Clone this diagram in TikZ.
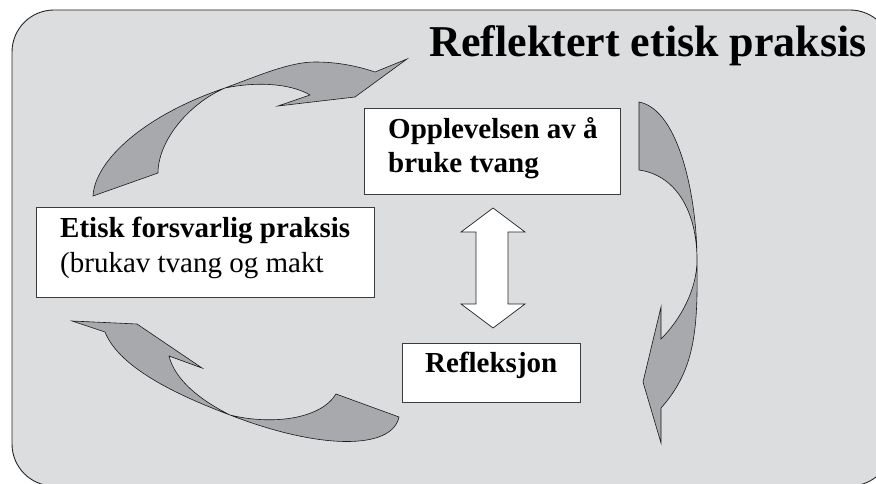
\documentclass[tikz,border=0pt]{standalone}
\usepackage{fontspec}
\setmainfont{Liberation Serif}
\definecolor{bgfill}{RGB}{220,221,223}
\definecolor{arrfill}{RGB}{168,169,173}
\definecolor{boxline}{RGB}{60,60,60}
\begin{document}
\begin{tikzpicture}[x=1pt,y=-1pt,
  bgpanel/.style={draw=black!85,line width=0.9pt,fill=bgfill,rounded corners=42pt},
  curvearrow/.style={draw=black!90,line width=0.6pt,fill=arrfill,line join=miter},
  box/.style={draw=boxline,line width=0.8pt,fill=white,rectangle,inner sep=0pt,anchor=north west},
  txt/.style={anchor=base west,inner sep=0pt,font=\fontsize{29}{34}\selectfont},
  dblarrow/.style={draw=black!85,line width=0.7pt,fill=white,line join=miter}]
\useasboundingbox (0,0) rectangle (876,484);
\clip (0,0) rectangle (876,484);
% background panel
\draw[bgpanel] (12,10) rectangle (892,486);
% title
\node[anchor=base east,inner sep=0pt,font=\fontsize{44}{48}\selectfont\bfseries] (title) at (867,57) {Reflektert etisk praksis};
% boxes
\node[box,minimum width=256pt,minimum height=86pt] (opp) at (364,108) {};
\node[txt,font=\fontsize{29}{34}\selectfont\bfseries] (oppA) at (388,139) {Opplevelsen av å};
\node[txt,font=\fontsize{29}{34}\selectfont\bfseries] (oppB) at (388,172) {bruke tvang};
\node[box,minimum width=338pt,minimum height=90pt] (etisk) at (36,207) {};
\node[txt,font=\fontsize{29}{34}\selectfont\bfseries] (etA) at (60,237) {Etisk forsvarlig praksis};
\node[txt] (etB) at (60,272) {(brukav tvang og makt};
\node[box,minimum width=178pt,minimum height=59pt] (refl) at (402,343) {};
\node[txt,font=\fontsize{29}{34}\selectfont\bfseries] (reA) at (425,372) {Refleksjon};
% double arrow between opp and refl
\coordinate (dtop) at (493,208);
\coordinate (dbot) at (493,328);
\draw[dblarrow] (dtop) -- ++(32,24) -- ++(-17,0) -- ++(0,72) -- ++(17,0) -- (dbot)
  -- ++(-32,-24) -- ++(15,0) -- ++(0,-72) -- ++(-15,0) -- cycle;
% curved arrow 1 (top left)
\draw[curvearrow] (93,196) .. controls (95,160) and (145,115) .. (225,88)
  .. controls (260,75) and (290,62) .. (315,62)
  .. controls (340,62) and (360,67) .. (375,72)
  -- (407,59) -- (355,97) -- (278,106) -- (310,95)
  .. controls (295,86) and (265,80) .. (225,88)
  .. controls (190,103) and (158,140) .. (158,173) -- cycle;
% curved arrow 2 (right)
\draw[curvearrow] (639,102) .. controls (680,110) and (697,200) .. (697,260)
  .. controls (698,330) and (695,370) .. (661,408)
  -- (661,443) -- (643,382) -- (661,307) -- (661,339)
  .. controls (680,320) and (697,290) .. (697,260)
  .. controls (697,210) and (675,175) .. (639,170) -- cycle;
% curved arrow 3 (bottom left)
\draw[curvearrow] (399,417) .. controls (392,450) and (320,450) .. (230,415)
  .. controls (185,398) and (120,370) .. (105,332)
  -- (72,321) -- (137,324) -- (202,368) -- (169,356)
  .. controls (175,380) and (200,400) .. (230,415)
  .. controls (270,425) and (320,420) .. (336,394) -- cycle;
\end{tikzpicture}
\end{document}
